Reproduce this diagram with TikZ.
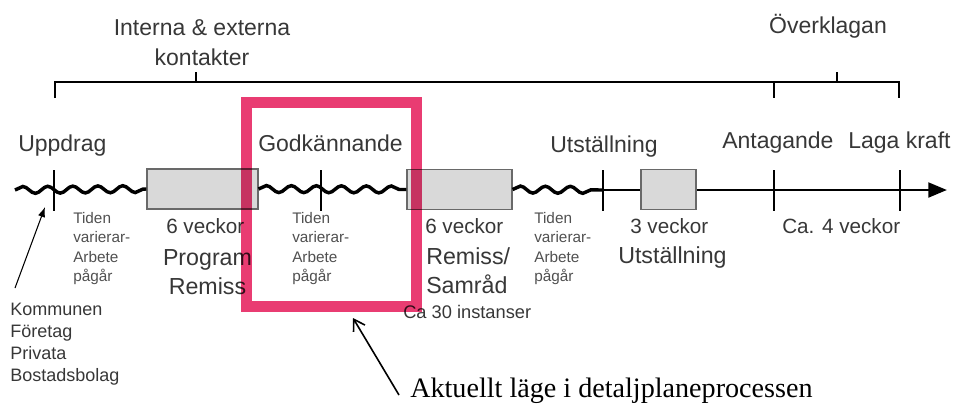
\documentclass[tikz,border=0pt]{standalone}
\usepackage{fontspec}
\setmainfont{Liberation Sans}
\newfontfamily\notefont{Liberation Serif}
\usetikzlibrary{arrows.meta,decorations.pathmorphing}
\definecolor{markpink}{RGB}{233,60,114}
\definecolor{boxgray}{RGB}{217,217,217}
\definecolor{boxedge}{RGB}{105,105,105}
\definecolor{labelgray}{RGB}{55,55,55}
\definecolor{notegray}{RGB}{80,80,80}
\newcommand{\fsz}[2]{\fontsize{#1}{#2}\selectfont}

\begin{document}
\begin{tikzpicture}[x=0.75pt,y=-0.75pt,
    phase/.style={text=labelgray,font=\fsz{17.25}{22.5},inner sep=0pt},
    span/.style={text=labelgray,font=\fsz{15.5}{21},inner sep=0pt},
    stage/.style={text=labelgray,font=\fsz{17.4}{21.6},inner sep=0pt},
    note/.style={text=notegray,font=\fsz{11.5}{14.6},inner sep=0pt,align=left,anchor=base west},
    period/.style={draw=boxedge,line width=0.8pt,fill=boxgray,minimum height=30pt,inner sep=0pt},
    wave/.style={line width=2.6pt,decorate,decoration={snake,segment length=18.75pt,amplitude=2.6pt}},
    tick/.style={line width=1.9pt},
    bracket/.style={line width=1.5pt}]
  \useasboundingbox (0,0) rectangle (955,405);

  % top bracket
  \node[phase,align=center,anchor=base] (kontakt) at (202,65) {Interna \& externa\\kontakter};
  \node[phase,anchor=base] (overkl) at (828,33) {Överklagan};
  \coordinate (kt) at (196,72);
  \coordinate (ot) at (837,72);
  \draw[bracket] (55,98) -- (55,82) -- (899,82) -- (899,98);
  \draw[bracket] (774,82) -- (774,98);
  \draw[line width=0.8pt] (kt) -- (196,82);
  \draw[line width=0.8pt] (ot) -- (837,82);

  % milestones
  \node[phase,anchor=base west] (uppdrag) at (18,151) {Uppdrag};
  \node[phase,anchor=base west] (godk) at (258,151) {Godkännande};
  \node[phase,anchor=base west] (utstlab) at (550,152) {Utställning};
  \node[phase,anchor=base west] (antag) at (722,148) {Antagande};
  \node[phase,anchor=base west] (laga) at (848,148) {Laga kraft};

  % time line
  \coordinate (wstart) at (15,190);
  \coordinate (t3) at (603,190);
  \coordinate (tend) at (947,190);
  \node[period,minimum width=83.25pt] (prog) at (202.5,189) {};
  \node[period,minimum width=78.75pt] (samrad) at (459.5,189.5) {};
  \draw[line width=2.2pt,-{Triangle[length=14pt,width=11pt]}] (t3) -- (tend);
  \node[period,minimum width=41.25pt] (utst) at (668.5,189.5) {};
  \draw[wave] (wstart) -- (prog.west);
  \draw[wave] (prog.east) -- (samrad.west);
  \draw[wave] (samrad.east) -- (t3);
  \foreach \x in {54,321,603,774,900}
    \draw[tick] (\x,170) -- (\x,211);

  % durations
  \node[span,anchor=base west] (dur1) at (166,233) {6 veckor};
  \node[stage,align=center,anchor=base] (name1) at (207.5,294) {Program\\Remiss};
  \node[span,anchor=base west] (dur2) at (425,233) {6 veckor};
  \node[stage,align=left,anchor=base west] (name2) at (426,293) {Remiss/\\Samråd};
  \node[text=labelgray,font=\fsz{13.7}{16},inner sep=0pt,anchor=base west] (inst) at (403,318) {Ca 30 instanser};
  \node[span,anchor=base west] (dur3) at (630,233) {3 veckor};
  \node[stage,anchor=base west] (name3) at (618,263) {Utställning};
  \node[span,anchor=base west] (dur4) at (782,233) {Ca. 4 veckor};
  \foreach \x in {73,292,534}
    \node[note] (tid\x) at (\x,281.5) {Tiden\\varierar-\\Arbete\\pågår};

  % who starts it
  \node[text=labelgray,font=\fsz{13.5}{16.5},inner sep=0pt,align=left,anchor=base west] (aktorer) at (10,381)
    {Kommunen\\Företag\\Privata\\Bostadsbolag};
  \coordinate (kfrom) at (15,288);
  \coordinate (kto) at (45,207);
  \draw[line width=0.8pt,-{Latex[length=7.5pt,width=5.5pt]}] (kfrom) -- (kto);

  % current state
  \draw[markpink,line width=8.25pt,blend mode=multiply] (246.5,102.5) rectangle (416.5,306);
  \node[font=\notefont\fsz{21.1}{24},inner sep=0pt,anchor=base west] (aktuellt) at (410,397)
    {Aktuellt läge i detaljplaneprocessen};
  \coordinate (afrom) at (399,395);
  \coordinate (ato) at (353,318);
  \draw[line width=1.2pt,-{Straight Barb[length=8pt,width=10pt]}] (afrom) -- (ato);
\end{tikzpicture}
\end{document}
